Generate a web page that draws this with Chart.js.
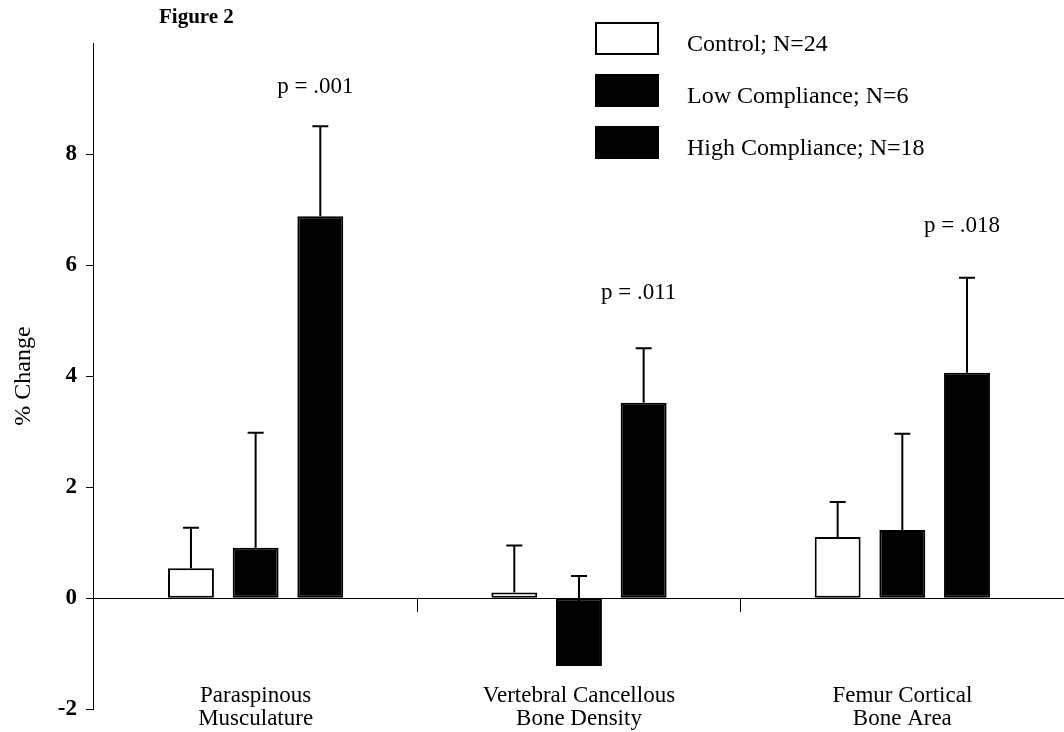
<!DOCTYPE html>
<html lang="en">
<head>
  <meta charset="UTF-8" />
  <title>Figure 2</title>
  <style>
    html, body { margin: 0; padding: 0; background: #fff; }
    #wrap { width: 1064px; height: 732px; }
  </style>
</head>
<body>
  <div id="wrap"><canvas id="fig2" width="1064" height="732"></canvas></div>

  <script src="https://cdn.jsdelivr.net/npm/chart.js"></script>
  <script>
    // data (% change, mean and upper SD)
    const categories = [['Paraspinous', 'Musculature'], ['Vertebral Cancellous', 'Bone Density'], ['Femur Cortical', 'Bone Area']];
    const groupNames = ['Control; N=24', 'Low Compliance; N=6', 'High Compliance; N=18'];
    const controlMean = [0.54, 0.10, 1.10];
    const controlSD = [0.73, 0.85, 0.63];
    const lowMean = [0.91, -1.22, 1.23];
    const lowSD = [2.07, 1.62, 1.73];
    const highMean = [6.88, 3.52, 4.06];
    const highSD = [1.62, 0.98, 1.71];
    const pValues = ['p = .001', 'p = .011', 'p = .018'];
    const yTicks = [-2, 0, 2, 4, 6, 8];

    const SERIF = "'Liberation Serif', 'Times New Roman', serif";
    Chart.defaults.font.family = SERIF;
    Chart.defaults.color = '#000';

    // one-sided (upward) error bars
    const errorBars = {
      id: 'errorBars',
      afterDatasetsDraw(chart) {
        const ctx = chart.ctx;
        const y = chart.scales.y;
        ctx.save();
        ctx.strokeStyle = '#000';
        ctx.lineWidth = 2;
        chart.data.datasets.forEach((ds, di) => {
          chart.getDatasetMeta(di).data.forEach((bar, i) => {
            const y0 = y.getPixelForValue(ds.data[i]);
            const y1 = y.getPixelForValue(ds.data[i] + ds.sd[i]);
            ctx.beginPath();
            ctx.moveTo(bar.x, y0);
            ctx.lineTo(bar.x, y1);
            ctx.moveTo(bar.x - 8, y1);
            ctx.lineTo(bar.x + 8, y1);
            ctx.stroke();
          });
        });
        ctx.restore();
      }
    };

    // p-values, legend and figure label
    const annotations = {
      id: 'annotations',
      afterDraw(chart, args, opts) {
        const ctx = chart.ctx;
        const y = chart.scales.y;
        ctx.save();
        ctx.fillStyle = '#000';

        ctx.font = '23px ' + SERIF;
        ctx.textAlign = 'center';
        ctx.textBaseline = 'middle';
        const highBars = chart.getDatasetMeta(2).data;
        pValues.forEach((txt, i) => {
          ctx.fillText(txt, highBars[i].x - 5, y.getPixelForValue(opts.pY[i]));
        });

        ctx.font = 'bold 21px ' + SERIF;
        ctx.textAlign = 'left';
        ctx.fillText('Figure 2', 159, 18);

        ctx.font = '24px ' + SERIF;
        chart.data.datasets.forEach((ds, i) => {
          const top = 22 + i * 52;
          ctx.fillStyle = ds.backgroundColor;
          ctx.fillRect(595, top, 64, 33);
          ctx.strokeStyle = '#000';
          ctx.lineWidth = 2;
          ctx.strokeRect(596, top + 1, 62, 31);
          ctx.fillStyle = '#000';
          ctx.fillText(ds.label, 687, top + 23);
        });
        ctx.restore();
      }
    };

    const ctx = document.getElementById('fig2').getContext('2d');
    new Chart(ctx, {
      type: 'bar',
      data: {
        labels: categories,
        datasets: [
          { label: groupNames[0], data: controlMean, sd: controlSD, backgroundColor: '#fff', borderColor: '#000' },
          { label: groupNames[1], data: lowMean, sd: lowSD, backgroundColor: '#000', borderColor: '#000' },
          { label: groupNames[2], data: highMean, sd: highSD, backgroundColor: '#000', borderColor: '#000' }
        ]
      },
      options: {
        responsive: false,
        animation: false,
        devicePixelRatio: 1,
        layout: { padding: { top: 43, left: 9, right: 0, bottom: 22 } },
        datasets: {
          bar: { categoryPercentage: 0.6, barPercentage: 0.71, borderWidth: 2, borderSkipped: false }
        },
        scales: {
          x: {
            position: { y: 0 },
            border: { color: '#000', width: 1 },
            grid: {
              drawOnChartArea: false,
              tickLength: 13,
              color: c => (c.index === 0 || c.index === categories.length) ? 'rgba(0,0,0,0)' : '#000'
            },
            ticks: {
              padding: 73,
              maxRotation: 0,
              autoSkip: false,
              font: { size: 23, lineHeight: 1 }
            }
          },
          y: {
            min: -2,
            max: 10,
            border: { color: '#000', width: 1 },
            grid: {
              drawOnChartArea: false,
              tickLength: 8,
              color: c => (c.tick && yTicks.includes(c.tick.value)) ? '#000' : 'rgba(0,0,0,0)'
            },
            ticks: {
              stepSize: 2,
              padding: 9,
              font: { size: 23, weight: 'bold' },
              callback: v => yTicks.includes(v) ? v : ''
            },
            title: {
              display: true,
              text: '% Change',
              font: { size: 24 },
              padding: { top: 0, bottom: 11 }
            }
          }
        },
        plugins: {
          legend: { display: false },
          tooltip: { enabled: false },
          annotations: { pY: [9.2, 5.5, 6.7] }
        }
      },
      plugins: [errorBars, annotations]
    });
  </script>
</body>
</html>
